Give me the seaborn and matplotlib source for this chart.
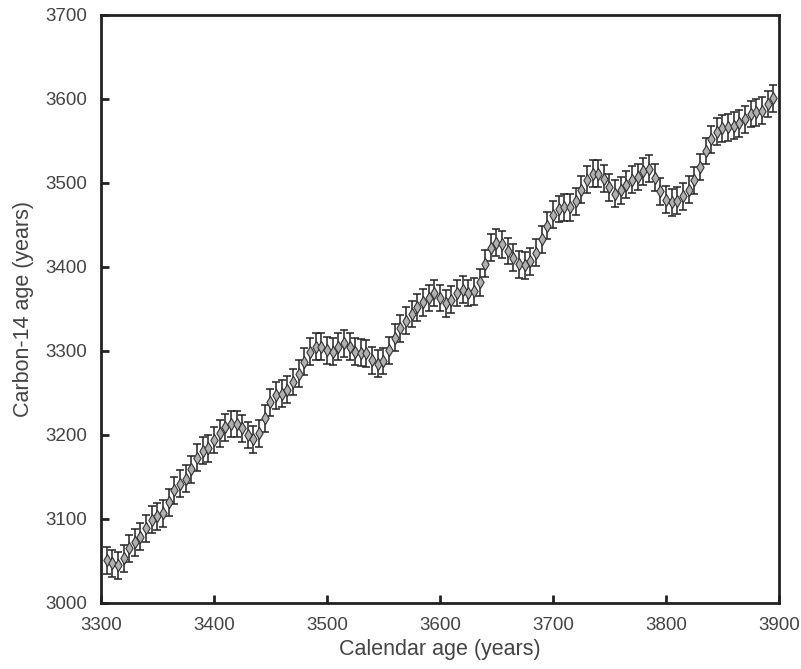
import matplotlib
matplotlib.use("Agg")
import matplotlib.pyplot as plt
import seaborn as sns
import pandas as pd

# calendar age (years), one reading every 5 years
cal_age = [
    3305, 3310, 3315, 3320, 3325, 3330, 3335, 3340, 3345, 3350,
    3355, 3360, 3365, 3370, 3375, 3380, 3385, 3390, 3395, 3400,
    3405, 3410, 3415, 3420, 3425, 3430, 3435, 3440, 3445, 3450,
    3455, 3460, 3465, 3470, 3475, 3480, 3485, 3490, 3495, 3500,
    3505, 3510, 3515, 3520, 3525, 3530, 3535, 3540, 3545, 3550,
    3555, 3560, 3565, 3570, 3575, 3580, 3585, 3590, 3595, 3600,
    3605, 3610, 3615, 3620, 3625, 3630, 3635, 3640, 3645, 3650,
    3655, 3660, 3665, 3670, 3675, 3680, 3685, 3690, 3695, 3700,
    3705, 3710, 3715, 3720, 3725, 3730, 3735, 3740, 3745, 3750,
    3755, 3760, 3765, 3770, 3775, 3780, 3785, 3790, 3795, 3800,
    3805, 3810, 3815, 3820, 3825, 3830, 3835, 3840, 3845, 3850,
    3855, 3860, 3865, 3870, 3875, 3880, 3885, 3890, 3895,
]

# carbon-14 age (years)
c14_age = [
    3051, 3047, 3045, 3053, 3065, 3072, 3079, 3089, 3099, 3103,
    3107, 3120, 3134, 3142, 3148, 3159, 3173, 3181, 3184, 3194,
    3202, 3209, 3213, 3213, 3208, 3200, 3195, 3202, 3220, 3239,
    3247, 3249, 3254, 3263, 3273, 3287, 3299, 3305, 3305, 3301,
    3299, 3305, 3309, 3305, 3299, 3298, 3297, 3289, 3285, 3288,
    3301, 3316, 3327, 3336, 3344, 3352, 3358, 3363, 3369, 3363,
    3357, 3361, 3369, 3373, 3369, 3371, 3382, 3404, 3423, 3429,
    3427, 3419, 3411, 3403, 3402, 3407, 3417, 3433, 3449, 3462,
    3469, 3471, 3471, 3478, 3492, 3504, 3511, 3511, 3505, 3495,
    3487, 3491, 3498, 3504, 3507, 3514, 3517, 3506, 3490, 3480,
    3477, 3479, 3484, 3492, 3503, 3519, 3538, 3552, 3561, 3565,
    3566, 3568, 3571, 3576, 3582, 3584, 3586, 3594, 3601,
]

# 1-sigma uncertainty, roughly the same for every point
c14_err = [16] * len(c14_age)

df = pd.DataFrame({"cal": cal_age, "c14": c14_age, "err": c14_err})

sns.set_theme(style="ticks")
plt.rcParams["font.family"] = ["Liberation Sans", "DejaVu Sans"]
text_col = "#444444"

fig = plt.figure(figsize=(8.01, 6.69), dpi=100)
ax = fig.add_axes([0.126, 0.0987, 0.8465, 0.879])

ax.errorbar(df["cal"], df["c14"], yerr=df["err"], fmt="none",
            ecolor="#222222", elinewidth=1.1, capsize=2.6, capthick=1.1, zorder=2)
sns.scatterplot(data=df, x="cal", y="c14", marker="d", s=38,
                color="#b0b0b0", edgecolor="#333333", linewidth=0.8,
                ax=ax, zorder=3)

ax.set_xlim(3300, 3900)
ax.set_ylim(3000, 3700)
ax.set_xticks(range(3300, 3901, 100))
ax.set_yticks(range(3000, 3701, 100))

for s in ax.spines.values():
    s.set_linewidth(2)
    s.set_color("#222222")

ax.tick_params(direction="in", length=6, width=2, color="#222222",
               labelsize=13.5, labelcolor=text_col, pad=10)
ax.set_xlabel("Calendar age (years)", fontsize=15.5, color=text_col, labelpad=4)
ax.set_ylabel("Carbon-14 age (years)", fontsize=15.5, color=text_col, labelpad=8)

fig.savefig("out.png", dpi=100)
